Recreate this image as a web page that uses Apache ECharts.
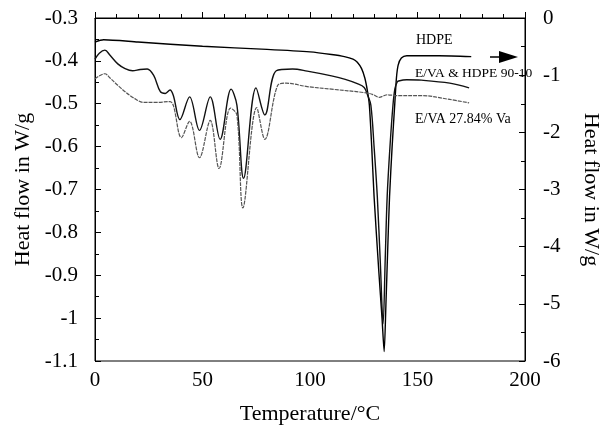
<!DOCTYPE html>
<html>
<head>
<meta charset="utf-8">
<script src="https://cdn.jsdelivr.net/npm/echarts@6/dist/echarts.min.js"></script>
<style>html,body{margin:0;padding:0;background:#fff;}#c{width:610px;height:430px;}</style>
</head>
<body>
<div id="c"></div>
<script>
// Temperature (°C) / heat flow (W/g) readings
// HDPE: plotted against the right axis (W/g)
var hdpe = [[0,-0.42],[4,-0.38],[20,-0.42],[50,-0.495],[80,-0.548],[100,-0.593],[110,-0.638],[116,-0.675],[120,-0.72],[122,-0.773],[124,-0.885],[125.5,-1.05],[126.7,-1.275],[127.6,-1.52],[128.7,-2.25],[129.8,-3.12],[132,-4.43],[133.5,-5.25],[134.5,-5.835],[135.3,-5.03],[136.2,-3.98],[137,-3.12],[138.2,-2.25],[139.4,-1.52],[140.2,-1.05],[141,-0.825],[142.5,-0.70],[145,-0.66],[160,-0.66],[175,-0.675]];
// E/VA & HDPE 90-10: left axis
var blend = [[0,-0.396],[2,-0.382],[4.6,-0.375],[7,-0.387],[10.6,-0.407],[14,-0.418],[17.5,-0.423],[21,-0.420],[24.3,-0.419],[27.3,-0.434],[30.4,-0.472],[32.7,-0.476],[34.9,-0.468],[36.4,-0.480],[39.5,-0.537],[44,-0.484],[48.6,-0.562],[53.6,-0.484],[58.2,-0.583],[63.3,-0.466],[66,-0.503],[69.1,-0.674],[74.9,-0.463],[79,-0.526],[84.3,-0.423],[91.9,-0.419],[98.7,-0.424],[110,-0.435],[116.4,-0.443],[122,-0.453],[125.2,-0.462],[126.8,-0.48],[128.3,-0.503],[129.8,-0.6],[131.3,-0.716],[132.7,-0.87],[134,-1.013],[135,-0.86],[135.9,-0.716],[137.2,-0.6],[138.6,-0.503],[139.5,-0.465],[140.5,-0.45],[141.2,-0.447],[145,-0.444],[151.8,-0.445],[165,-0.452],[174,-0.463]];
// E/VA 27.84% Va: left axis
var eva = [[0,-0.442],[2,-0.435],[4.6,-0.430],[7,-0.44],[10.6,-0.457],[14,-0.472],[18.2,-0.487],[22.8,-0.497],[28,-0.497],[34.9,-0.495],[36.5,-0.505],[40.2,-0.579],[44,-0.541],[48.6,-0.626],[53.6,-0.539],[57.7,-0.651],[63,-0.510],[66,-0.526],[68.8,-0.743],[75.2,-0.509],[79,-0.583],[85,-0.457],[88.9,-0.452],[98.7,-0.46],[110,-0.466],[125.2,-0.474],[129,-0.478],[132.3,-0.485],[134,-0.482],[135.9,-0.479],[140,-0.481],[151.8,-0.481],[165,-0.49],[174,-0.498]];
var seriesNames = ['HDPE','E/VA & HDPE 90-10','E/VA 27.84% Va'];
var xAxisName = 'Temperature/°C';
var yAxisName = 'Heat flow in W/g';

var chart = echarts.init(document.getElementById('c'));
var F = 'Liberation Serif, Times New Roman, serif';
var axisCommon = {
  axisLine:{show:true,lineStyle:{color:'#000',width:1}},
  axisTick:{show:true,inside:true,length:6,lineStyle:{color:'#000'}},
  splitLine:{show:false},
  axisLabel:{color:'#000',fontFamily:F,fontSize:21},
  nameTextStyle:{color:'#000',fontFamily:F,fontSize:22}
};
chart.setOption({
  animation:false,
  grid:{left:95,right:76,top:18,bottom:62,show:true,borderColor:'#000',borderWidth:1,containLabel:false},
  xAxis:Object.assign({},axisCommon,{type:'value',min:0,max:200,interval:50,
    minorTick:{show:true,splitNumber:5,length:4,lineStyle:{color:'#000'}},
    name:xAxisName,nameLocation:'middle',nameGap:42,
    axisLabel:Object.assign({},axisCommon.axisLabel,{margin:9})}),
  yAxis:[
    Object.assign({},axisCommon,{type:'value',position:'left',min:-1.1,max:-0.3,interval:0.1,
      minorTick:{show:true,splitNumber:2,length:4,lineStyle:{color:'#000'}},
      name:yAxisName,nameLocation:'middle',nameGap:60,nameRotate:90,
      axisLabel:Object.assign({},axisCommon.axisLabel,{margin:17,formatter:function(v){return String(+v.toFixed(2));}})}),
    Object.assign({},axisCommon,{type:'value',position:'right',min:-6,max:0,interval:1,
      minorTick:{show:true,splitNumber:2,length:4,lineStyle:{color:'#000'}},
      name:yAxisName,nameLocation:'middle',nameGap:55,nameRotate:-90,
      axisLabel:Object.assign({},axisCommon.axisLabel,{margin:18})})
  ],
  series:[
    {name:seriesNames[0],type:'line',yAxisIndex:1,data:hdpe,showSymbol:false,smooth:0.25,lineStyle:{color:'#000',width:1.4}},
    {name:seriesNames[1],type:'line',yAxisIndex:0,data:blend,showSymbol:false,smooth:0.35,lineStyle:{color:'#111',width:1.4}},
    {name:seriesNames[2],type:'line',yAxisIndex:0,data:eva,showSymbol:false,smooth:0.35,lineStyle:{color:'#555',width:1.2,type:[4,1]}}
  ],
  graphic:[
    {type:'text',left:416,top:33,style:{text:seriesNames[0],fontFamily:F,fontSize:14,fill:'#000'}},
    {type:'text',left:415,top:66,style:{text:seriesNames[1],fontFamily:F,fontSize:13.5,fill:'#000'}},
    {type:'text',left:415,top:112,style:{text:seriesNames[2],fontFamily:F,fontSize:14,fill:'#000'}},
    {type:'line',shape:{x1:490,y1:57,x2:503,y2:57},style:{stroke:'#000',lineWidth:1.5}},
    {type:'polygon',shape:{points:[[499,51],[518,57],[499,63]]},style:{fill:'#000'}}
  ]
});
</script>
</body>
</html>
